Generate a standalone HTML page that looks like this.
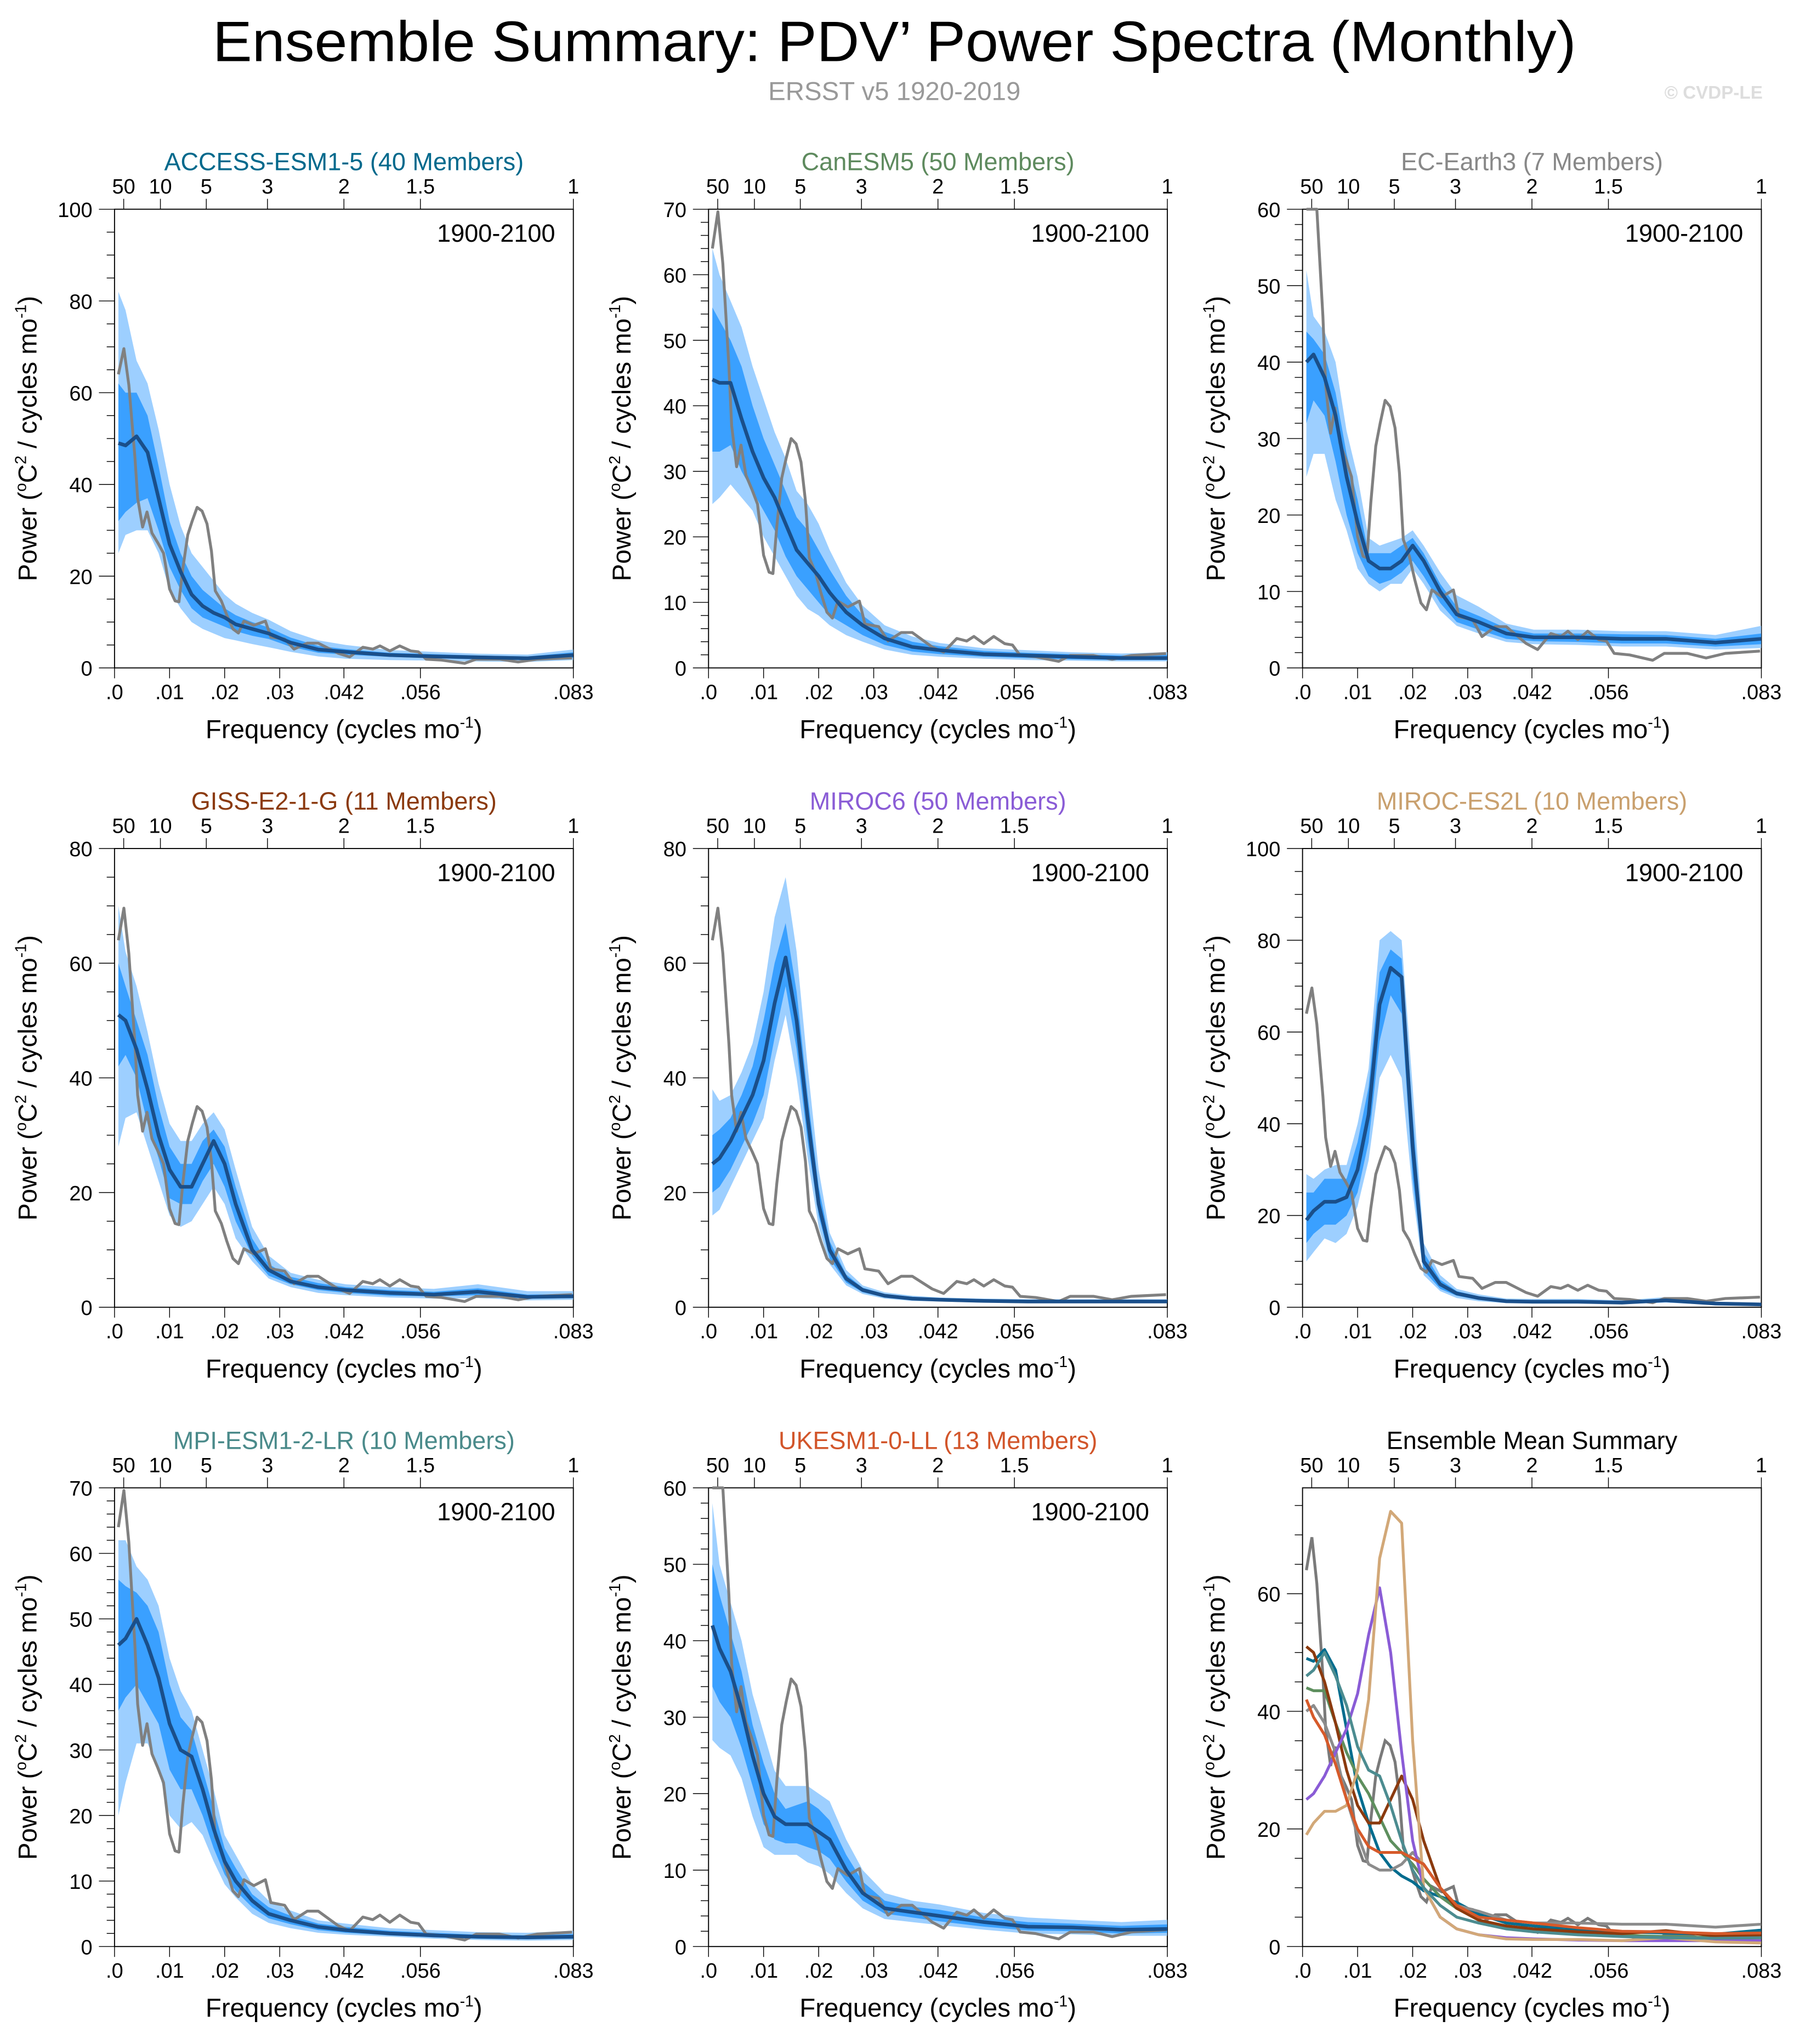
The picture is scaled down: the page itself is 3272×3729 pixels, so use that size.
<!DOCTYPE html>
<html><head><meta charset="utf-8"><style>
html,body{margin:0;padding:0;background:#fff;}
svg{display:block;font-family:"Liberation Sans",Arial,sans-serif;}
</style></head>
<body>
<svg id="fig" width="3272" height="3729" viewBox="0 0 1380 1573" xmlns="http://www.w3.org/2000/svg">
<text x="688" y="47" font-size="44" text-anchor="middle" textLength="1049" lengthAdjust="spacingAndGlyphs">Ensemble Summary: PDV’ Power Spectra (Monthly)</text>
<text x="688" y="77" font-size="20" fill="#999" text-anchor="middle">ERSST v5 1920-2019</text>
<text x="1356" y="76" font-size="14" fill="#ddd" font-weight="bold" text-anchor="end">© CVDP-LE</text>
</svg>
<script>
// ---- data ----
const grid = [0.0007,0.002,0.004,0.006,0.008,0.010,0.012,0.014,0.016,0.018,0.020,0.022,0.025,0.028,0.032,0.037,0.042,0.050,0.058,0.066,0.075,0.0833];
const obsFreq = [.0007,.0017,.0026,.0037,.0042,.0051,.0059,.0068,.0079,.0089,.0100,.0110,.0117,.0124,.0133,.0141,.0150,.0159,.0168,.0176,.0183,.0194,.0204,.0215,.0225,.0235,.0253,.0274,.0284,.0309,.0326,.0350,.0370,.0406,.0427,.0451,.0469,.0482,.0500,.0518,.0538,.0552,.0566,.0594,.0636,.0657,.0699,.0733,.0768,.0831];
const obsPower = [64,69.6,61.7,46,37,30.7,34,29.4,27.2,25,17.2,14.6,14.4,21.6,29,32,35,34.2,31.4,25.5,16.8,14.6,11.5,8.5,7.6,10.2,9.3,10.2,6.7,6.3,4.1,5.4,5.4,3.2,2.4,4.5,4.1,4.8,3.7,4.8,3.7,3.5,1.9,1.7,1.0,1.9,1.9,1.3,1.9,2.2];
const modelNames = ["ACCESS-ESM1-5 (40 Members)","CanESM5 (50 Members)","EC-Earth3 (7 Members)","GISS-E2-1-G (11 Members)","MIROC6 (50 Members)","MIROC-ES2L (10 Members)","MPI-ESM1-2-LR (10 Members)","UKESM1-0-LL (13 Members)"];
const titleColors = ["#00698C","#5E8A5E","#888888","#8B3A0E","#8A5CD6","#C9A06E","#4A8A8A","#D2552A"];
const lineColors = ["#006C8E","#5E8F5E","#8C8C8C","#8B3A0E","#8A5CD6","#D2A878","#4C8C90","#D65A2A"];
const yMaxes = [100,70,60,80,80,100,70,60];
const yMajor = [20,10,10,20,20,20,10,10];
const meanP = [
[49,48.5,50.5,47,37,27,21,16,13.5,12,11,9.5,8.5,7.5,5.5,4,3.5,2.8,2.5,2.3,2.1,2.8],
[44,43.5,43.5,38,33,29,26,22,18,16,14,11.5,8.5,6.5,4.5,3.2,2.7,2.1,1.9,1.7,1.5,1.5],
[40,41,38,33,25,19,14,13,13,14,16,14,10,7,6,4.5,4,4,3.8,3.8,3.3,3.8],
[51,50,45,38,30,24,21,21,25,29,25,18,10,6.5,4.5,3.5,3,2.5,2.2,2.7,1.8,1.9],
[25,26,29,33,37,43,53,61,50,33,18,10,5,3,2,1.5,1.3,1.1,1,1,1,1],
[19,21,23,23,24,30,42,66,74,72,35,10,5,3,2,1.3,1.2,1.2,1,1.5,0.8,0.6],
[46,47,50,46,41,34,30,29,24,18,13,10,7,5,4,3,2.5,2,1.7,1.5,1.4,1.5],
[42,39,36,31,25,20,17,16,16,16,15,14,10,7,5,4.5,4,3.2,2.6,2.5,2.2,2.3]];
const innerLo = [
[32,34,36,37,30,22,17,13,11,10,9,8,7,6.3,4.6,3.3,2.9,2.4,2.1,1.9,1.8,2.2],
[33,33,34,30,27,24,21,17,14,12,10,8,6.5,5,3.5,2.5,2.1,1.7,1.5,1.3,1.2,1.2],
[32,35,33,27,20,15,12,11,11.5,12.5,14,12,8.5,6,5,3.8,3.5,3.4,3.2,3.2,2.8,3.1],
[42,44,40,32,26,19,18,18,22,25,21,15,9,5.5,4,3,2.5,2,1.9,2.1,1.5,1.6],
[20,21,24,28,32,37,47,56,45,29,16,8.5,4.3,2.6,1.7,1.3,1.1,0.9,0.9,0.9,0.9,0.9],
[14,16,18,18,20,25,36,58,68,64,28,8,4,2.5,1.6,1,1,1,0.8,1.2,0.6,0.4],
[36,38,40,37,34,27,24,24,20,15,11,8.5,6,4.3,3.4,2.5,2.1,1.7,1.4,1.2,1.1,1.2],
[34,32,30,26,21,16,14,13.5,13.5,13,12.5,11.5,8.5,6,4.3,3.8,3.3,2.6,2.1,2,1.7,1.8]];
const innerHi = [
[62,60,60,55,44,32,25,20,17,15,13,11.5,10,8.8,6.6,4.8,4.1,3.3,3,2.7,2.5,3.4],
[55,53,50,46,40,35,31,27,23,21,18,15,11,8,5.5,4,3.3,2.6,2.3,2.1,1.9,2],
[44,43,41,36,28,22,15,15,15,16,17,15,11,8,6.8,5.2,4.5,4.5,4.4,4.3,3.8,4.5],
[60,56,50,44,35,28,25,25,29,31,28,21,12,7.5,5.3,4.2,3.5,3,2.7,3.3,2.2,2.3],
[30,31,33,37,42,50,60,67,55,37,21,11.5,5.7,3.4,2.3,1.8,1.5,1.3,1.2,1.2,1.2,1.2],
[25,25,28,28,28,36,48,73,78,76,42,12,6,3.5,2.4,1.6,1.5,1.5,1.2,1.8,1,0.8],
[56,55,54,52,48,40,35,33,27,21,15,12,8,6,4.7,3.5,3,2.4,2.1,1.8,1.7,1.9],
[50,46,41,36,29,24,20,18,18.5,19,18,16.5,12,8.5,6,5.2,4.8,3.8,3.2,3,2.7,2.9]];
const outerLo = [
[25,29,30,30,25,17,13,10,8.5,7.5,6.5,6,5.2,4.5,3.5,2.5,2,1.7,1.6,1.4,1.3,1.7],
[25,26,28,26,24,20,17,14,11,9,8,6.5,5,4,2.8,2,1.7,1.4,1.2,1.1,1,1],
[25,28,28,22,18,13,11,10,11,11,13,11,7.5,5.5,4.5,3.4,3.1,3,2.8,2.8,2.4,2.6],
[28,33,34,28,22,16,14,15,18,21,18,12,8,5,3.5,2.5,2.1,1.7,1.5,1.6,1.2,1.3],
[16,17,21,25,29,33,43,51,40,26,14,7.5,3.8,2.3,1.5,1.1,1,0.8,0.8,0.8,0.8,0.8],
[10,12,15,14,16,22,32,50,55,50,25,7,3.5,2,1.3,0.9,0.8,0.8,0.7,1,0.5,0.3],
[20,25,31,31,27,20,18,19,17,13,9.5,7.5,5,3.6,2.8,2.1,1.8,1.5,1.2,1,0.9,1],
[27,26,25,22,17,13,12,12,12,11,10.5,9.5,7,5,3.6,3.2,2.8,2.2,1.7,1.6,1.4,1.4]];
const outerHi = [
[82,78,67,62,52,40,31,25,22,19,16,14,12,10.5,8,6,5,3.9,3.5,3.1,2.9,4],
[64,60,56,52,46,41,36,32,27,25,22,18,13,9.5,6.5,4.8,3.8,3,2.7,2.4,2.2,2.4],
[52,46,44,40,31,25,17,16,16.5,17,18,16,12.5,9.5,8,5.8,5,5,4.8,4.8,4.3,5.5],
[70,62,56,48,39,32,29,29,32,34,31,24,14,9,6,4.8,4,3.5,3.2,4,2.8,2.8],
[38,36,37,41,46,55,68,75,62,42,24,13,6.5,3.8,2.6,2,1.7,1.5,1.4,1.4,1.4,1.4],
[29,28,30,31,31,40,52,80,82,80,48,14,7,4,2.8,1.9,1.8,1.8,1.5,2.2,1.2,1],
[62,62,58,56,52,44,39,36,30,24,17,14,9.5,7,5.5,4,3.5,2.8,2.5,2.2,2.1,2.4],
[58,50,45,40,33,28,23,21,21,21,20,19,14,10,7,6,5.5,4.4,3.8,3.5,3.2,3.5]];
const xTickVals = [0,0.01,0.02,0.03,1/24,1/18,1/12];
const xTickLabels = [".0",".01",".02",".03",".042",".056",".083"];
const periodVals = [50,10,5,3,2,1.5,1];
const periodLabels = ["50","10","5","3","2","1.5","1"];
const summaryYMax = 78;

// ---- drawing ----
const NS = "http://www.w3.org/2000/svg";
const svg = document.getElementById('fig');
function mk(tag, attrs, parent){
  const e = document.createElementNS(NS, tag);
  for (const k in attrs) e.setAttribute(k, attrs[k]);
  (parent||svg).appendChild(e);
  return e;
}
const PW = 353, PH = 353, FMAX = 1/12;
const colX = [88,545,1002], rowY = [161,653,1145];

function drawPanel(px, py, ymax, major, title, tcolor, pname){
  const g = mk('g', {});
  
  
  const sx = f => px + f / FMAX * PW;
  const sy = v => py + PH - Math.min(v, ymax) / ymax * PH;
  const t = mk('text', {x: px + PW/2, y: py - 30, 'font-size': 19, fill: tcolor, 'text-anchor': 'middle'}, g);
  t.textContent = title;
  
  
  const fr = mk('rect', {x: px, y: py, width: PW, height: PH, fill: 'none', stroke: '#000', 'stroke-width': 0.8}, g);
  
  
  const minor = major === 20 ? 5 : 2;
  for (let v = 0; v <= ymax + 1e-9; v += minor) {
    const isMaj = Math.abs(v / major - Math.round(v / major)) < 1e-9;
    mk('line', {x1: px - (isMaj ? 12 : 6), x2: px, y1: sy(v), y2: sy(v), stroke: '#000', 'stroke-width': 0.6}, g);
    if (isMaj) {
      const l = mk('text', {x: px - 17, y: sy(v) + 6, 'font-size': 16, 'text-anchor': 'end'}, g);
      l.textContent = String(v);
      
      
    }
  }
  xTickVals.forEach((f, i) => {
    mk('line', {x1: sx(f), x2: sx(f), y1: py + PH, y2: py + PH + 8, stroke: '#000', 'stroke-width': 0.6}, g);
    const l = mk('text', {x: sx(f), y: py + PH + 24, 'font-size': 16, 'text-anchor': 'middle'}, g);
    l.textContent = xTickLabels[i];
    
    
  });
  periodVals.forEach((p, i) => {
    const f = 1 / (p * 12);
    mk('line', {x1: sx(f), x2: sx(f), y1: py, y2: py - 8, stroke: '#000', 'stroke-width': 0.6}, g);
    const l = mk('text', {x: sx(f), y: py - 12, 'font-size': 16, 'text-anchor': 'middle'}, g);
    l.textContent = periodLabels[i];
    
    
  });
  const xl = mk('text', {x: px + PW/2, y: py + PH + 54, 'font-size': 20, 'text-anchor': 'middle'}, g);
  xl.innerHTML = 'Frequency (cycles mo<tspan dy="-8" font-size="12">-1</tspan><tspan dy="8">)</tspan>';
  
  
  const yl = mk('text', {x: 0, y: 0, 'font-size': 20, 'text-anchor': 'middle', transform: `translate(${px - 60},${py + PH/2}) rotate(-90)`}, g);
  yl.innerHTML = 'Power (<tspan dy="-8" font-size="12">o</tspan><tspan dy="8">C</tspan><tspan dy="-8" font-size="12">2</tspan><tspan dy="8"> / cycles mo</tspan><tspan dy="-8" font-size="12">-1</tspan><tspan dy="8">)</tspan>';
  
  
  return {g, sx, sy};
}
function linePath(fs, vs, sx, sy){
  return fs.map((f, i) => (i ? 'L' : 'M') + sx(f).toFixed(2) + ' ' + sy(vs[i]).toFixed(2)).join(' ');
}
function bandPath(lo, hi, sx, sy){
  let d = grid.map((f, i) => (i ? 'L' : 'M') + sx(f).toFixed(2) + ' ' + sy(hi[i]).toFixed(2)).join(' ');
  for (let i = grid.length - 1; i >= 0; i--) d += ' L' + sx(grid[i]).toFixed(2) + ' ' + sy(lo[i]).toFixed(2);
  return d + ' Z';
}

for (let m = 0; m < 8; m++) {
  const px = colX[m % 3], py = rowY[Math.floor(m / 3)];
  const {g, sx, sy} = drawPanel(px, py, yMaxes[m], yMajor[m], modelNames[m], titleColors[m], 'panel-' + m);
  const ob = mk('path', {d: bandPath(outerLo[m], outerHi[m], sx, sy), fill: '#9DCFFF'}, g);
  
  
  const ib = mk('path', {d: bandPath(innerLo[m], innerHi[m], sx, sy), fill: '#3AA0FF'}, g);
  
  
  const obl = mk('path', {d: linePath(obsFreq, obsPower, sx, sy), fill: 'none', stroke: '#808080', 'stroke-width': 2.2, 'stroke-linejoin': 'round'}, g);
  
  
  const ml = mk('path', {d: linePath(grid, meanP[m], sx, sy), fill: 'none', stroke: '#1A4F8A', 'stroke-width': 2.8, 'stroke-linejoin': 'round'}, g);
  
  
  const yr = mk('text', {x: px + PW - 14, y: py + 25, 'font-size': 19, 'text-anchor': 'end'}, g);
  yr.textContent = '1900-2100';
  
  
}
{
  const px = colX[2], py = rowY[2];
  const {g, sx, sy} = drawPanel(px, py, summaryYMax, 20, 'Ensemble Mean Summary', '#000', 'summary-panel');
  const obl = mk('path', {d: linePath(obsFreq, obsPower, sx, sy), fill: 'none', stroke: '#7A7A7A', 'stroke-width': 2.2}, g);
  
  
  for (let m = 0; m < 8; m++) {
    const l = mk('path', {d: linePath(grid, meanP[m], sx, sy), fill: 'none', stroke: lineColors[m], 'stroke-width': 2.2, 'stroke-linejoin': 'round'}, g);
    
    
  }
}
</script>
</body></html>
